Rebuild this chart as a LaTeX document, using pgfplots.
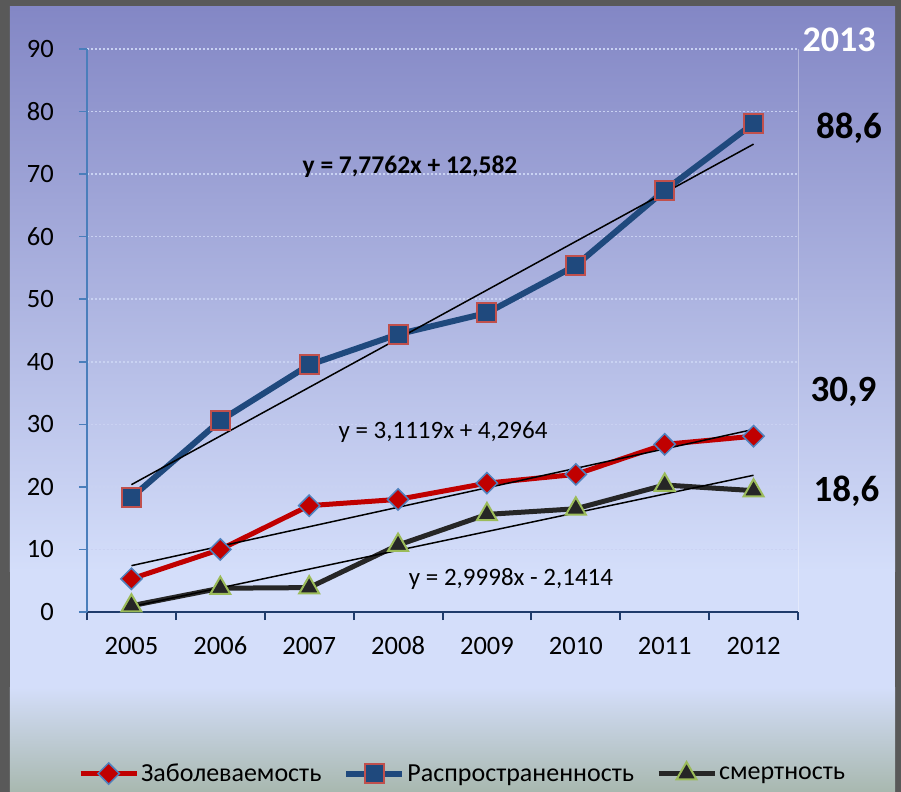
\documentclass[border=0pt]{standalone}
\usepackage{pgfplots}
\pgfplotsset{compat=1.18}
\usepackage{fontspec}
\setmainfont{Carlito}
\definecolor{bgborder}{HTML}{595959}
\definecolor{bgtop}{HTML}{8387C5}
\definecolor{bglight}{HTML}{D4DEFA}
\definecolor{bgbot}{HTML}{A8B8AF}
\definecolor{gridc}{HTML}{C9D2F2}
\definecolor{yaxc}{HTML}{4A7EBB}
\definecolor{xaxc}{HTML}{1F3B6B}
\definecolor{sblue}{HTML}{1F497D}
\definecolor{sred}{HTML}{C00000}
\definecolor{sblack}{HTML}{262626}
\definecolor{oblue}{HTML}{4F81BD}
\definecolor{ored}{HTML}{C0504D}
\definecolor{ogreen}{HTML}{9BBB59}
\begin{document}
\begin{tikzpicture}
\fill[bgborder] (-87bp,-180bp) rectangle (814bp,612bp);
\shade[top color=bgtop, bottom color=bglight] (-77bp,40bp) rectangle (808bp,605bp);
\fill[bglight] (-77bp,-75bp) rectangle (808bp,40.5bp);
\shade[top color=bglight, bottom color=bgbot] (-77bp,-180bp) rectangle (808bp,-75bp);
\draw[white, opacity=0.35, line width=1bp] (711bp,0bp) -- (711bp,563bp);
\begin{axis}[
  scale only axis,
  width=711bp, height=563bp,
  xmin=-0.5, xmax=7.5,
  ymin=0, ymax=90,
  axis x line=bottom, axis y line=left,
  x axis line style={-, draw=xaxc, line width=2bp},
  y axis line style={-, draw=yaxc, line width=1.5bp},
  xtick={-0.5,0.5,...,7.5},
  xticklabels={},
  extra x ticks={0,1,2,3,4,5,6,7},
  extra x tick labels={2005,2006,2007,2008,2009,2010,2011,2012},
  extra x tick style={major tick length=0pt, grid=none},
  xtick style={draw=xaxc, line width=2bp},
  ytick={0,10,...,90},
  ytick style={draw=yaxc, line width=1.5bp},
  tick align=outside,
  major tick length=8bp,
  xticklabel style={anchor=base, inner sep=0pt, yshift=-42bp, font=\fontsize{26.5bp}{30bp}\selectfont},
  yticklabel style={anchor=base east, inner sep=0pt, xshift=-25bp, yshift=-8.5bp, font=\fontsize{26.5bp}{30bp}\selectfont},
  /pgf/number format/assume math mode=true,
  ymajorgrids,
  grid style={draw=gridc, line width=1.5bp, dash pattern=on 2bp off 2bp},
  legend columns=-1,
  legend style={draw=none, fill=none, at={(-0.0127,-0.287)}, anchor=west,
    font=\fontsize{26bp}{30bp}\selectfont, inner sep=0pt,
    /tikz/every even column/.append style={column sep=20bp}},
  legend image code/.code={\draw[mark repeat=2,mark phase=2,#1] plot coordinates {(0bp,0bp) (28bp,0bp) (56bp,0bp)};},
]
\addplot[sred, line width=5bp, mark=square*, mark size=7.5bp,
  mark options={rotate=45, fill=sred, draw=oblue, line width=1.5bp, solid}]
  coordinates {(0,5.3) (1,10.0) (2,17.0) (3,18.0) (4,20.6) (5,22.0) (6,26.8) (7,28.1)};
\addlegendentry{Заболеваемость}
\addplot[sblue, line width=6bp, mark=square*, mark size=9.5bp,
  mark options={fill=sblue, draw=ored, line width=2bp, solid}]
  coordinates {(0,18.3) (1,30.6) (2,39.5) (3,44.4) (4,47.8) (5,55.4) (6,67.4) (7,78.1)};
\addlegendentry{Распространенность}
\addplot[sblack, line width=5bp, mark=triangle*, mark size=11.5bp,
  mark options={fill=sblack, draw=ogreen, line width=2bp, solid}]
  coordinates {(0,1.0) (1,3.8) (2,3.9) (3,10.7) (4,15.6) (5,16.5) (6,20.3) (7,19.4)};
\addlegendentry{смертность}
\addplot[black, line width=1.5bp, forget plot] coordinates {(0,20.358) (7,74.792)};
\addplot[black, line width=1.5bp, forget plot] coordinates {(0,7.408) (7,29.191)};
\addplot[black, line width=1.5bp, forget plot] coordinates {(0,0.858) (7,21.857)};
\end{axis}
\node[anchor=base, inner sep=0pt, font=\fontsize{25.5bp}{30bp}\selectfont\bfseries] at (323bp,438bp) {y = 7,7762x + 12,582};
\node[anchor=base, inner sep=0pt, font=\fontsize{25bp}{30bp}\selectfont] at (356bp,173bp) {y = 3,1119x + 4,2964};
\node[anchor=base, inner sep=0pt, font=\fontsize{25bp}{30bp}\selectfont] at (424bp,27bp) {y = 2,9998x - 2,1414};
\node[anchor=base, inner sep=0pt, text=white, font=\fontsize{36bp}{40bp}\selectfont\bfseries] at (752bp,560bp) {2013};
\node[anchor=base, inner sep=0pt, font=\fontsize{37bp}{40bp}\selectfont\bfseries] at (762bp,473bp) {88,6};
\node[anchor=base, inner sep=0pt, font=\fontsize{37bp}{40bp}\selectfont\bfseries] at (756.5bp,210bp) {30,9};
\node[anchor=base, inner sep=0pt, font=\fontsize{37bp}{40bp}\selectfont\bfseries] at (759.5bp,110bp) {18,6};
\pgfresetboundingbox
\path[use as bounding box] (-87bp,-180bp) rectangle (814bp,612bp);
\end{tikzpicture}
\end{document}
